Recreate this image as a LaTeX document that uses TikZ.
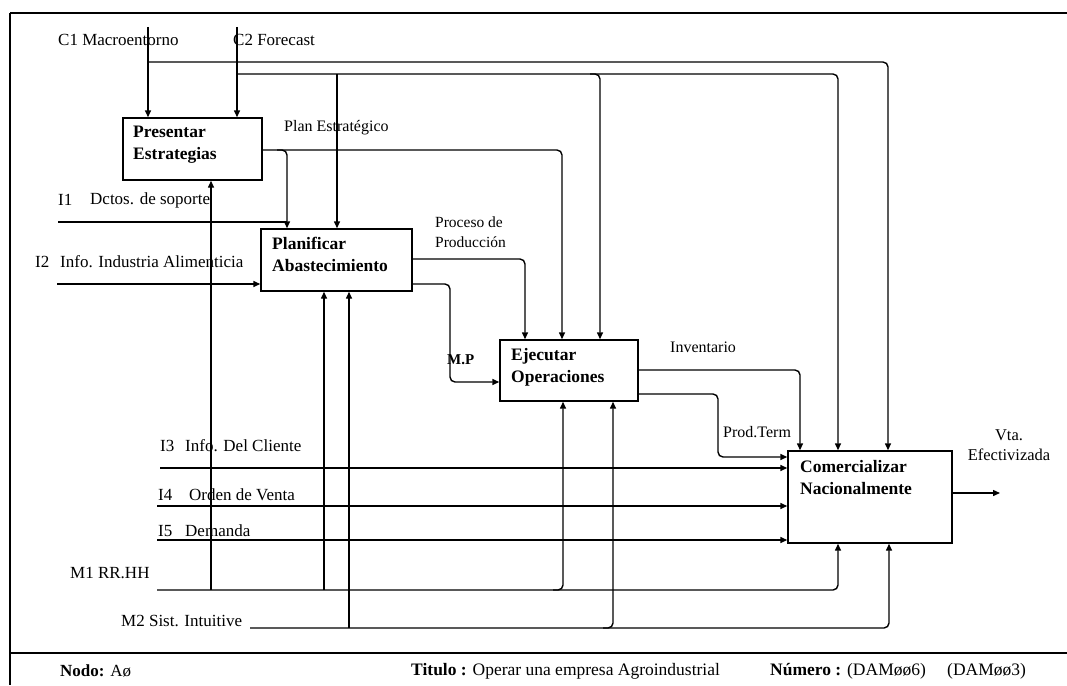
\documentclass[tikz,border=0pt]{standalone}
\usepackage{fontspec}
\setmainfont{Liberation Serif}
\usetikzlibrary{arrows.meta}
\begin{document}
\begin{tikzpicture}[x=1pt,y=-1pt,
  conn/.style={line width=1.4pt, rounded corners=5pt},
  arr/.style={conn,-{Triangle[length=7pt,width=6pt]}},
  box/.style={draw, line width=1.4pt, inner sep=0pt},
  lbl/.style={anchor=west, inner sep=0pt, font=\fontsize{17}{19}\selectfont},
  slbl/.style={anchor=west, inner sep=0pt, font=\fontsize{16}{20}\selectfont, align=left},
  btxt/.style={anchor=north west, inner sep=0pt, align=left, font=\fontsize{17.5}{22}\selectfont\bfseries},
  tbar/.style={anchor=west, inner sep=0pt, font=\fontsize{17.5}{19}\selectfont},
  frameline/.style={line width=2.5pt}]

\useasboundingbox (0,0) rectangle (1067,685);

% frame
\draw[frameline] (10,13) -- (1067,13);
\draw[frameline] (10,13) -- (10,685);
\draw[frameline] (10,653) -- (1067,653);

% boxes
\node[box, minimum width=139pt, minimum height=62pt] (P) at (192.5,149) {};
\node[box, minimum width=151pt, minimum height=62pt] (A) at (336.5,260) {};
\node[box, minimum width=138pt, minimum height=61pt] (E) at (569,370.5) {};
\node[box, minimum width=164pt, minimum height=92pt] (C) at (870,497) {};

\node[btxt] (Pt) at (133,126) {Presentar\\Estrategias};
\node[btxt] (At) at (272,237) {Planificar\\Abastecimiento};
\node[btxt] (Et) at (511,348) {Ejecutar\\Operaciones};
\node[btxt] (Ct) at (800,460) {Comercializar\\Nacionalmente};

% controls
\coordinate (c1) at (148,27);
\coordinate (c2) at (237,27);
\draw[arr] (c1) -- (c1 |- P.north);
\draw[arr] (c2) -- (c2 |- P.north);
\coordinate (c1b) at (148,62); \coordinate (c1e) at (888,62);
\draw[arr] (c1b) -- (c1e) -- (c1e |- C.north);
\coordinate (c2b) at (237,74); \coordinate (c2e) at (838,74);
\draw[arr] (c2b) -- (c2e) -- (c2e |- C.north);
\coordinate (c2a) at (337,74);
\draw[arr] (c2a) -- (c2a |- A.north);
\coordinate (c2x) at (590,74); \coordinate (c2y) at (600,74);
\draw[arr] (c2x) -- (c2y) -- (c2y |- E.north);

% plan estrategico
\coordinate (pe) at (562,150);
\draw[arr] (P.east |- pe) -- (pe) -- (pe |- E.north);
\coordinate (pa0) at (277,150); \coordinate (pa) at (287,150);
\draw[arr] (pa0) -- (pa) -- (pa |- A.north);

% inputs I1, I2
\coordinate (i1) at (58,222); \coordinate (i1e) at (287,222);
\draw[conn] (i1) -- (i1e);
\coordinate (i2) at (57,284);
\draw[arr] (i2) -- (i2 -| A.west);

% mechanisms up to P and A
\coordinate (m1p) at (211,590);
\draw[arr] (m1p) -- (m1p |- P.south);
\coordinate (m1a) at (324,590);
\draw[arr] (m1a) -- (m1a |- A.south);
\coordinate (m2a) at (349,628);
\draw[arr] (m2a) -- (m2a |- A.south);

% A outputs
\coordinate (pp) at (525,259);
\draw[arr] (A.east |- pp) -- (pp) -- (pp |- E.north);
\coordinate (mp1) at (450,284); \coordinate (mp2) at (450,382);
\draw[arr] (A.east |- mp1) -- (mp1) -- (mp2) -- (mp2 -| E.west);

% mechanisms to E
\coordinate (me0) at (553,590); \coordinate (me) at (563,590);
\draw[arr] (me0) -- (me) -- (me |- E.south);
\coordinate (mf0) at (603,628); \coordinate (mf) at (613,628);
\draw[arr] (mf0) -- (mf) -- (mf |- E.south);

% E outputs
\coordinate (inv) at (800,370);
\draw[arr] (E.east |- inv) -- (inv) -- (inv |- C.north);
\coordinate (pt1) at (718,394); \coordinate (pt2) at (718,457);
\draw[arr] (E.east |- pt1) -- (pt1) -- (pt2) -- (pt2 -| C.west);

% inputs I3-I5
\coordinate (i3) at (160,468);
\draw[arr] (i3) -- (i3 -| C.west);
\coordinate (i4) at (157,506);
\draw[arr] (i4) -- (i4 -| C.west);
\coordinate (i5) at (157,540);
\draw[arr] (i5) -- (i5 -| C.west);

% mechanisms M1, M2
\coordinate (m1) at (157,590); \coordinate (m1e) at (838,590);
\draw[arr] (m1) -- (m1e) -- (m1e |- C.south);
\coordinate (m2) at (250,628); \coordinate (m2e) at (889,628);
\draw[arr] (m2) -- (m2e) -- (m2e |- C.south);

% output
\coordinate (out) at (1000,493);
\draw[arr] (C.east |- out) -- (out);

% labels
\node[lbl] (lc1) at (58,40) {C1 Macroentorno};
\node[lbl] (lc2) at (233,40) {C2 Forecast};
\node[slbl] (lpe) at (284,128) {Plan Estratégico};
\node[lbl] (li1a) at (58,200) {I1};
\node[lbl] (li1b) at (90,200) {Dctos. de soporte};
\node[lbl] (li2a) at (35,262) {I2};
\node[lbl] (li2b) at (60,262) {Info. Industria Alimenticia};
\node[slbl, font=\fontsize{15.5}{20}\selectfont] (lpp) at (435,232) {Proceso de\\Producción};
\node[lbl, font=\fontsize{15}{17}\selectfont\bfseries] (lmp) at (447,360) {M.P};
\node[slbl] (linv) at (670,347) {Inventario};
\node[slbl] (lpt) at (723,432) {Prod.Term};
\node[slbl, align=center, anchor=center, font=\fontsize{16.5}{20}\selectfont] (lvta) at (1009,445) {Vta.\\Efectivizada};
\node[lbl] (li3a) at (160,446) {I3};
\node[lbl] (li3b) at (185,446) {Info. Del Cliente};
\node[lbl] (li4a) at (158,495) {I4};
\node[lbl] (li4b) at (189,495) {Orden de Venta};
\node[lbl] (li5a) at (158,531) {I5};
\node[lbl] (li5b) at (185,531) {Demanda};
\node[lbl] (lm1) at (70,573) {M1 RR.HH};
\node[lbl] (lm2) at (121,621) {M2 Sist. Intuitive};

% title bar
\node[lbl] (lnodo) at (60,671) {\textbf{Nodo:} Aø};
\node[tbar] (ltit) at (411,671) {\textbf{Titulo :} Operar una empresa Agroindustrial};
\node[tbar] (lnum) at (770,671) {\textbf{Número :} (DAMøø6)};
\node[tbar] (lnum2) at (947,671) {(DAMøø3)};
\end{tikzpicture}
\end{document}
